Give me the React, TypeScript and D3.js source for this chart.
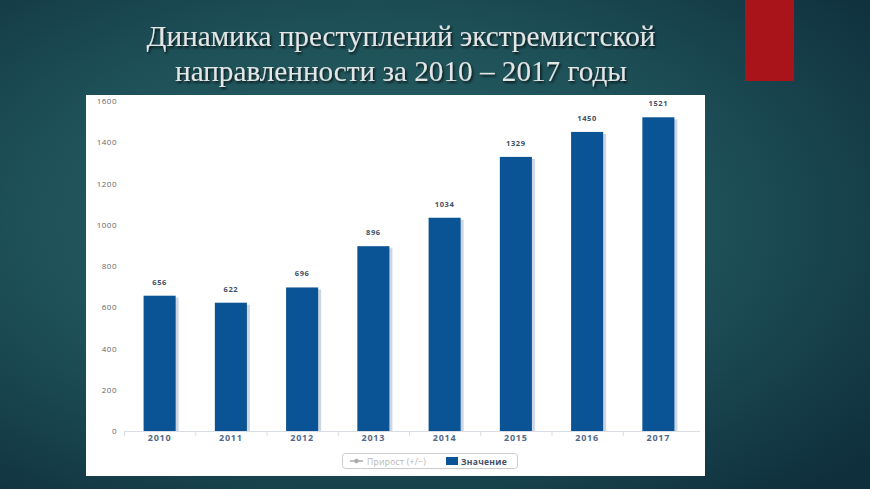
import * as d3 from "d3"

const years = ["2010", "2011", "2012", "2013", "2014", "2015", "2016", "2017"]
const values = [656, 622, 696, 896, 1034, 1329, 1450, 1521]
const yTicks = [0, 200, 400, 600, 800, 1000, 1200, 1400, 1600]
const titleLines = ["Динамика преступлений экстремистской", "направленности за 2010 – 2017 годы"]
const legendItems = ["Прирост (+/−)", "Значение"]

const W = 870
const H = 489

const App = () => {
  const x = d3.scaleBand().domain(years).range([124, 694]).paddingInner(0.55).paddingOuter(0.275)
  const y = d3.scaleLinear().domain([0, 1600]).range([431, 101])
  const step = x.step()

  return (
    <svg width={W} height={H} style={{ position: "absolute", left: 0, top: 0 }}>
      <defs>
        <radialGradient id="bg" cx="0.42" cy="0.45" r="0.75">
          <stop offset="0%" stopColor="#2b6668" />
          <stop offset="55%" stopColor="#1d4f57" />
          <stop offset="100%" stopColor="#0f2f3d" />
        </radialGradient>
        <filter id="ts" x="-5%" y="-20%" width="110%" height="140%">
          <feDropShadow dx="1.5" dy="2" stdDeviation="1.2" floodColor="#000" floodOpacity="0.7" />
        </filter>
      </defs>
      <rect width={W} height={H} fill="url(#bg)" />
      <rect x={745} y={0} width={49} height={81} fill="#a8141a" />

      {titleLines.map((t, i) => (
        <text
          key={t}
          x={401}
          y={46 + i * 35}
          textAnchor="middle"
          fontFamily="Liberation Serif, serif"
          fontSize={29.2}
          fill="#e4e6e6"
          filter="url(#ts)"
        >
          {t}
        </text>
      ))}

      <rect x={86} y={95} width={619} height={381} fill="#ffffff" />

      {/* y tick labels */}
      {yTicks.map(t => (
        <text
          key={t}
          x={117}
          y={y(t) + 3}
          textAnchor="end"
          fontFamily="Open Sans, sans-serif"
          fontSize={8}
          letterSpacing={0.5}
          fill="#666"
        >
          {t}
        </text>
      ))}

      {/* axis line and ticks */}
      <line x1={124} x2={700} y1={431.5} y2={431.5} stroke="#d8dde6" />
      {years.map((yr, i) => (
        <line
          key={yr}
          x1={124 + i * step + 0.5}
          x2={124 + i * step + 0.5}
          y1={431}
          y2={436}
          stroke="#d8dde6"
        />
      ))}

      {/* bars */}
      {values.map((v, i) => (
        <g key={years[i]}>
          <rect
            x={(x(years[i]) || 0) + 3}
            y={y(v) + 2}
            width={x.bandwidth()}
            height={431 - y(v) - 2}
            fill="#cdd6e2"
          />
          <rect
            x={x(years[i]) || 0}
            y={y(v)}
            width={x.bandwidth()}
            height={431 - y(v)}
            fill="#0a5394"
          />
          <text
            x={(x(years[i]) || 0) + x.bandwidth() / 2}
            y={y(v) - 11}
            textAnchor="middle"
            fontFamily="Open Sans, sans-serif"
            fontSize={7.5}
            fontWeight="bold"
            letterSpacing={0.6}
            fill="#3e4f66"
          >
            {v}
          </text>
          <text
            x={(x(years[i]) || 0) + x.bandwidth() / 2}
            y={441}
            textAnchor="middle"
            fontFamily="Open Sans, sans-serif"
            fontSize={9}
            fontWeight="bold"
            letterSpacing={0.8}
            fill="#51698a"
          >
            {years[i]}
          </text>
        </g>
      ))}

      {/* legend */}
      <rect x={342.5} y={453.5} width={175} height={15} rx={3} fill="#fff" stroke="#cccccc" />
      <line x1={350} x2={363} y1={461} y2={461} stroke="#aaaaaa" strokeWidth={1.5} />
      <circle cx={356.5} cy={461} r={2.2} fill="#aaaaaa" />
      <text x={367} y={464.5} fontFamily="Open Sans, sans-serif" fontSize={8.5} letterSpacing={0.3} fill="#b5b5b5">
        {legendItems[0]}
      </text>
      <rect x={446} y={457} width={12} height={8} fill="#0a5394" />
      <text x={461} y={464.5} fontFamily="Open Sans, sans-serif" fontSize={8.5} fontWeight="bold" letterSpacing={0.3} fill="#3e4f66">
        {legendItems[1]}
      </text>
    </svg>
  )
}

export default App
